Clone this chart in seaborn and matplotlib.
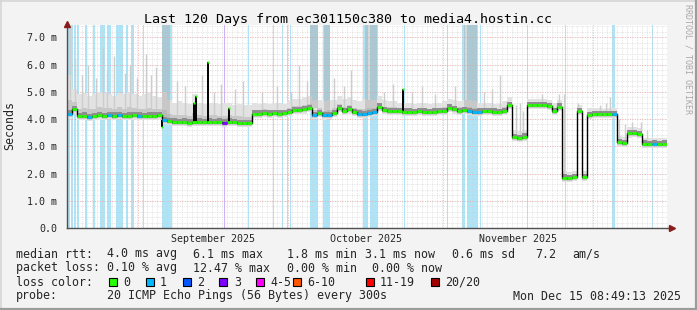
import numpy as np
import pandas as pd
import matplotlib
matplotlib.use("Agg")
import matplotlib.pyplot as plt
from matplotlib.patches import Rectangle
from matplotlib.lines import Line2D
import seaborn as sns

# ---------------- data ----------------
TITLE = "Last 120 Days from ec301150c380 to media4.hostin.cc"
y_ticks = [0.0, 1.0, 2.0, 3.0, 4.0, 5.0, 6.0, 7.0]
y_tick_labels = ["0.0", "1.0 m", "2.0 m", "3.0 m", "4.0 m", "5.0 m", "6.0 m", "7.0 m"]
month_start_days = [14.2, 44.2, 75.2, 105.2]
month_labels = ["September 2025", "October 2025", "November 2025"]
month_label_days = [29.2, 59.7, 90.2]

# daily median rtt (ms), day 0 = Aug 17 2025 ~19:00
median_ms = [
    4.20, 4.35, 4.10, 4.12, 4.08, 4.10, 4.13, 4.10, 4.15, 4.12,
    4.14, 4.10, 4.12, 4.13, 4.12, 4.10, 4.12, 4.12, 4.14,
    3.95, 3.92, 3.90, 3.88, 3.90, 3.87, 3.88, 3.90, 3.88, 3.90,
    3.88, 3.90, 3.87, 3.90, 3.88, 3.86, 3.85, 3.86,
    4.20, 4.20, 4.22, 4.20, 4.21, 4.20, 4.22, 4.25, 4.32, 4.33, 4.35, 4.40,
    4.14, 4.22, 4.13, 4.15, 4.22, 4.40, 4.30, 4.35, 4.25, 4.20,
    4.18, 4.22, 4.25, 4.45, 4.32, 4.30, 4.30, 4.28,
    4.27, 4.27, 4.26, 4.28, 4.27, 4.26, 4.27, 4.28, 4.30, 4.42,
    4.35, 4.30, 4.32, 4.28, 4.25, 4.27, 4.30, 4.28, 4.27, 4.26, 4.30,
    4.50, 3.33, 3.30, 3.35, 4.50, 4.52, 4.50, 4.50, 4.48, 4.30, 4.45,
    1.85, 1.83, 1.87, 4.30, 1.88, 4.15, 4.18, 4.18, 4.17, 4.18, 4.17,
    3.15, 3.12, 3.47, 3.48, 3.45, 3.10, 3.08, 3.10, 3.09, 3.10,
]
# loss class per day (0 = no loss, 1 = 1/20, 3 = 3/20)
loss_class = [
    1, 0, 0, 0, 1, 0, 0, 0, 1, 0,
    1, 0, 0, 0, 1, 0, 0, 0, 0, 1,
    0, 0, 0, 0, 0, 0, 0, 0, 0, 0,
    0, 3, 0, 0, 0, 0, 0, 0, 0, 0,
    0, 0, 0, 0, 0, 0, 0, 0, 0, 1,
    0, 1, 1, 0, 0, 0, 0, 0, 1, 1,
    1, 1, 0, 0, 0, 0, 0, 0, 0, 0,
    0, 0, 0, 0, 0, 0, 0, 0, 0, 0,
    1, 1, 1, 0, 0, 0, 0, 0, 0, 0,
    0, 0, 0, 0, 0, 0, 0, 0, 0, 0,
    0, 0, 0, 0, 0, 0, 0, 0, 0, 1,
    0, 0, 0, 0, 0, 0, 0, 1, 0, 0,
]
# upper edge of the light smoke per day (ms)
smoke_top_ms = [
    5.60, 5.10, 4.90, 4.95, 4.85, 4.90, 5.00, 4.95, 4.90, 4.85,
    4.95, 4.90, 5.00, 4.90, 4.85, 4.90, 4.95, 4.85, 4.80,
    5.00, 4.70, 4.60, 4.65, 4.60, 4.55, 4.90, 4.60, 4.55, 4.60,
    4.60, 4.55, 4.60, 4.60, 4.50, 4.55, 4.50, 4.50,
    4.60, 4.55, 4.60, 4.55, 4.60, 4.60, 4.55, 4.65, 4.75, 4.75, 4.80, 4.85,
    4.70, 4.70, 4.65, 4.70, 4.70, 4.85, 4.75, 4.80, 4.70, 4.65,
    4.75, 4.70, 4.70, 4.85, 4.70, 4.65, 4.65, 4.60,
    4.60, 4.60, 4.55, 4.60, 4.60, 4.55, 4.60, 4.60, 4.65, 4.75,
    4.70, 4.65, 4.70, 4.70, 4.65, 4.60, 4.60, 4.60, 4.55, 4.55, 4.65,
    4.80, 3.60, 3.55, 3.60, 4.75, 4.75, 4.72, 4.72, 4.70, 4.60, 4.70,
    2.10, 2.05, 2.10, 4.50, 2.10, 4.40, 4.40, 4.40, 4.38, 4.40, 4.40,
    3.38, 3.35, 3.70, 3.70, 3.68, 3.32, 3.30, 3.32, 3.30, 3.32,
]
# single-sample median spikes
median_spike_day = [19.0, 25.4, 25.8, 28.2, 32.4, 67.2]
median_spike_ms = [3.70, 4.60, 4.85, 6.10, 4.40, 5.10]
# thin smoke spikes (max pings)
smoke_spike_day = [0.6, 1.6, 3.0, 4.2, 5.8, 7.2, 8.0, 9.4, 11.6, 12.6, 14.0, 15.8, 16.8, 17.8,
                   22.0, 23.6, 27.0, 29.4, 30.8, 33.6, 35.2,
                   39.0, 42.0, 44.8, 46.4, 48.0, 53.4, 55.4, 56.8, 63.4, 65.2, 69.0, 71.0,
                   73.6, 77.6, 83.4, 85.0, 86.6,
                   89.8, 90.6, 91.2, 95.0, 98.4, 99.4, 102.2, 104.6, 106.6, 107.8, 108.6,
                   110.4, 111.6, 113.0, 114.8, 116.0]
smoke_spike_top = [7.40, 6.20, 5.60, 6.00, 5.50, 6.60, 5.80, 6.30, 5.70, 6.00, 5.50, 6.40, 5.60, 5.90,
                   5.40, 5.20, 5.60, 5.00, 5.30, 5.10, 5.40,
                   5.00, 5.20, 5.00, 6.00, 5.40, 5.50, 5.20, 5.80, 5.00, 5.30, 5.00, 5.20,
                   4.90, 5.20, 5.00, 5.10, 5.60,
                   4.50, 4.60, 4.30, 4.90, 4.90, 4.90, 4.60, 4.30, 4.50, 4.60, 4.80,
                   4.00, 3.80, 3.90, 3.90, 3.60]
# periods where smoke reaches the top of the graph
tall_smoke_start = [19.0, 48.6, 51.4, 59.6, 79.4]
tall_smoke_end = [20.6, 50.2, 52.6, 62.0, 82.0]
# background loss bars
loss_bar_start = [0.2, 0.8, 1.4, 2.0, 3.6, 5.2, 6.6, 7.9, 9.8, 11.8, 12.7, 15.1, 19.0, 31.3,
                  36.1, 41.1, 42.9, 43.9, 44.5, 48.6, 51.2, 59.2, 60.6, 67.3, 75.9, 79.0,
                  80.0, 82.5, 91.9, 99.5, 108.9, 116.9]
loss_bar_end = [0.5, 1.1, 1.7, 2.3, 3.9, 5.5, 7.6, 8.7, 11.2, 12.2, 13.3, 15.4, 21.0, 31.6,
                36.4, 41.4, 43.2, 44.1, 44.8, 50.2, 52.6, 60.2, 62.2, 67.6, 76.2, 79.6,
                82.2, 82.8, 92.2, 99.8, 109.6, 117.2]
loss_bar_class = [1, 1, 1, 1, 1, 1, 1, 1, 1, 1, 1, 1, 1, 3,
                  1, 1, 1, 1, 1, 1, 1, 1, 1, 1, 1, 1,
                  1, 1, 1, 1, 1, 1]

legend_labels = ["0", "1", "2", "3", "4-5", "6-10", "11-19", "20/20"]
legend_colors = ["#26ff00", "#00b8ff", "#0059ff", "#7e00ff", "#ff00ff", "#ff5500", "#ff0000", "#a10000"]
loss_line_color = {0: "#26ff00", 1: "#00b8ff", 3: "#7e00ff"}
loss_bar_color = {1: "#ace4f8", 3: "#cdb0fa"}

stat_rows = [
    ["median rtt:", "4.0 ms avg", "6.1 ms max", "1.8 ms min", "3.1 ms now", "0.6 ms sd", "7.2", "am/s"],
    ["packet loss:", "0.10 % avg", "12.47 % max", "0.00 % min", "0.00 % now"],
]
probe_label = "probe:"
probe_text = "20 ICMP Echo Pings (56 Bytes) every 300s"
stamp_text = "Mon Dec 15 08:49:13 2025"

# ---------------- figure ----------------
sns.set_style("white")
plt.rcParams["font.family"] = ["DejaVu Sans Mono", "DejaVu Sans"]

W, H = 697, 310
fig = plt.figure(figsize=(W / 100, H / 100), dpi=100)
fig.patch.set_facecolor("#f3f3f3")

L, R, T, B = 67, 667, 25, 228
ax = fig.add_axes([L / W, 1 - B / H, (R - L) / W, (B - T) / H])
ax.set_facecolor("white")
YMAX = 7.45
ax.set_xlim(0, 120)
ax.set_ylim(0, YMAX)

def fx(px):
    return px / W

def fy(py):
    return 1 - py / H

# loss bars
for s, e, c in zip(loss_bar_start, loss_bar_end, loss_bar_class):
    ax.axvspan(s, e, color=loss_bar_color[c], lw=0, zorder=1)

# grid
dotted = (0, (1, 1.5))
for d in range(0, 121):
    ax.axvline(d, color="#d2d2d2", lw=0.5, ls=dotted, zorder=1.5)
for v in np.arange(0, YMAX, 0.2):
    ax.axhline(v, color="#d2d2d2", lw=0.5, ls=dotted, zorder=1.5)
for d in month_start_days:
    ax.axvline(d, color="#f0a4a4", lw=0.6, ls=(0, (1, 2)), zorder=1.6)
for v in y_ticks[1:]:
    ax.axhline(v, color="#f0a4a4", lw=0.6, ls=(0, (1, 2)), zorder=1.6)

# smoke
med = np.array(median_ms)
top = np.array(smoke_top_ms)
x_edges = np.arange(len(med) + 1)
med_e = np.append(med, med[-1])
top_e = np.append(top, top[-1])
ax.fill_between(x_edges, med_e - 0.15, top_e, step="post", color="#e2e2e2", lw=0, zorder=2)
ax.fill_between(x_edges, med_e - 0.11, med_e + 0.35 * (top_e - med_e), step="post",
                color="#c8c8c8", lw=0, zorder=2.2)
ax.fill_between(x_edges, med_e - 0.07, med_e + 0.12, step="post", color="#8e8e8e", lw=0, zorder=2.4)

idx = np.clip(np.array(smoke_spike_day).astype(int), 0, len(med) - 1)
ax.vlines(smoke_spike_day, med[idx], smoke_spike_top, color="#cdcdcd", lw=1.0, zorder=2.1)

for s, e in zip(tall_smoke_start, tall_smoke_end):
    base = med[int(s)]
    ax.add_patch(Rectangle((s, base), e - s, YMAX - base, facecolor="#a6a6a6", alpha=0.42,
                           lw=0, zorder=2.3))

# median line
df = pd.DataFrame({"day": x_edges, "rtt": med_e})
sns.lineplot(data=df, x="day", y="rtt", drawstyle="steps-post", color="black", lw=1.0,
             estimator=None, ax=ax, zorder=5)
ax.hlines(med, np.arange(len(med)), np.arange(len(med)) + 1,
          colors=[loss_line_color[c] for c in loss_class], lw=2.0, zorder=6)
sidx = np.clip(np.array(median_spike_day).astype(int), 0, len(med) - 1)
ax.vlines(median_spike_day, med[sidx], median_spike_ms, color="black", lw=1.4, zorder=5.5)
ax.plot(median_spike_day, median_spike_ms, "s", color="#26ff00", ms=2, mec="none", zorder=6)

# axes styling
for sp in ["top", "right"]:
    ax.spines[sp].set_visible(False)
for sp in ["left", "bottom"]:
    ax.spines[sp].set_color("#505050")
    ax.spines[sp].set_linewidth(1.0)
    ax.spines[sp].set_zorder(7)
ax.set_yticks(y_ticks)
ax.set_yticklabels(y_tick_labels, fontsize=7.2)
ax.set_xticks(month_start_days)
ax.set_xticklabels([])
ax.set_xticks(month_label_days, minor=True)
ax.set_xticklabels(month_labels, minor=True, fontsize=7.2)
ax.tick_params(axis="y", which="major", length=3, width=0.8, color="#404040", pad=4)
ax.tick_params(axis="x", which="major", length=3, width=0.8, color="#e88a8a", direction="out")
ax.tick_params(axis="x", which="minor", length=0, pad=4)
ax.set_xlabel("")
ax.set_ylabel("")
ax.plot([120, 121.0], [0, 0], color="#505050", lw=1.0, clip_on=False, zorder=7)
ax.plot([121.0], [0], marker=">", color="#8b1a1a", ms=4.5, clip_on=False, zorder=8)
ax.plot([0], [YMAX + 0.05], marker="^", color="#8b1a1a", ms=4.5, clip_on=False, zorder=8)

# texts
fig.text(0.4993, fy(19), TITLE, ha="center", va="center", fontsize=9.6, color="black")
fig.text(fx(10), fy(126), "Seconds", rotation=90, ha="center", va="center", fontsize=8.4)
fig.text(fx(688), fy(59), "RRDTOOL / TOBI OETIKER", rotation=270, ha="center", va="center",
         fontsize=6.0, color="#a8a8a8")

FS = 8.4
row_y = [254, 268, 282, 296]
stat_x = [[16, 107, 193, 287, 365, 452, 535, 572], [16, 107, 193, 287, 372]]
for r, (row, xs) in enumerate(zip(stat_rows, stat_x)):
    for txt, px in zip(row, xs):
        fig.text(fx(px), fy(row_y[r]), txt, ha="left", va="center", fontsize=FS)

fig.text(fx(16), fy(row_y[2]), "loss color:", ha="left", va="center", fontsize=FS)
box_x = [109, 146, 183, 219, 256, 293, 366, 431]
lab_x = [123, 160, 197, 234, 270, 307, 380, 445]
for bx, lx, lab, col in zip(box_x, lab_x, legend_labels, legend_colors):
    fig.patches.append(Rectangle((fx(bx), fy(row_y[2] + 4)), 8 / W, 8 / H, facecolor=col,
                                 edgecolor="black", lw=0.8, transform=fig.transFigure))
    fig.text(fx(lx), fy(row_y[2]), lab, ha="left", va="center", fontsize=FS)

fig.text(fx(16), fy(row_y[3]), probe_label, ha="left", va="center", fontsize=FS)
fig.text(fx(107), fy(row_y[3]), probe_text, ha="left", va="center", fontsize=FS)
fig.text(fx(513), fy(row_y[3]), stamp_text, ha="left", va="center", fontsize=FS)

# frame edges
fig.add_artist(Line2D([0, 1], [fy(1), fy(1)], color="#d6d6d6", lw=1.2, transform=fig.transFigure))
fig.add_artist(Line2D([fx(1), fx(1)], [0, 1], color="#d6d6d6", lw=1.2, transform=fig.transFigure))
fig.add_artist(Line2D([0, 1], [fy(308.5), fy(308.5)], color="#9c9c9c", lw=1.6, transform=fig.transFigure))
fig.add_artist(Line2D([fx(695.5), fx(695.5)], [0, 1], color="#9c9c9c", lw=1.6, transform=fig.transFigure))

fig.savefig("out.png", dpi=100, facecolor=fig.get_facecolor())
